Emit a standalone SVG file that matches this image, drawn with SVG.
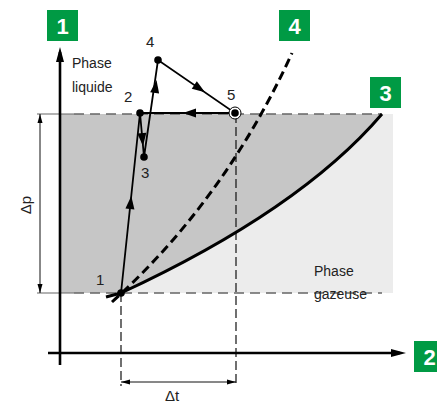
<svg xmlns="http://www.w3.org/2000/svg" width="437" height="406" viewBox="0 0 437 406">
<style>
.lbl{font-family:"Liberation Sans",Arial,sans-serif;font-size:14px;fill:#222}
.num{font-family:"Liberation Sans",Arial,sans-serif;font-size:15px;fill:#222}
.badge rect{fill:#009a44}
.badge text{font-family:"Liberation Sans",Arial,sans-serif;font-size:22px;font-weight:bold;fill:#fff;text-anchor:middle}
.gdash{stroke:#666;stroke-width:1.4;stroke-dasharray:10 6;fill:none}
.ext{stroke:#666;stroke-width:1.2;fill:none}
.vdash{stroke:#111;stroke-width:1.2;stroke-dasharray:9 4;fill:none}
.dim{stroke:#111;stroke-width:1;fill:none}
.path{stroke:#000;stroke-width:1.8;fill:none}
.axis{stroke:#000;stroke-width:2.6;fill:none}
</style>
<defs>
<polygon id="ah" points="0,0 -13,-4.5 -13,4.5" fill="#000"/>
<polygon id="axh" points="0,0 -15,-4 -15,4" fill="#000"/>
<polygon id="dh" points="0,0 -9,-2.5 -9,2.5" fill="#000"/>
</defs>

<g id="regions">
<rect x="60" y="114" width="333" height="179" fill="#ececec"/>
<path d="M60,114 L382,114 Q300,210 121,293 L60,293 Z" fill="#c6c6c6"/>
</g>

<g id="connectors">
<path class="ext" d="M37,114 H74 M37,293 H74"/>
<path class="gdash" d="M74,114 H382 M74,293 H382"/>
<path class="vdash" d="M121,293 V386 M236,114 V386"/>
<path class="dim" d="M40,114 V293 M121,382 H236"/>
<use href="#dh" transform="translate(40,114) rotate(-90)"/>
<use href="#dh" transform="translate(40,293) rotate(90)"/>
<use href="#dh" transform="translate(121,382) rotate(180)"/>
<use href="#dh" transform="translate(236,382)"/>
<path d="M106,297 L121,293 Q300,210 382,114" stroke="#000" stroke-width="3" fill="none"/>
<path d="M112,302 Q225,200 292,53" stroke="#000" stroke-width="3" stroke-dasharray="9 5" fill="none"/>
<path class="path" d="M121,293 L140,113 L144,157 L158,60 L235,113 L140,113"/>
<use href="#ah" transform="translate(131.3,196) rotate(-84)"/>
<use href="#ah" transform="translate(143,146) rotate(84.8)"/>
<use href="#ah" transform="translate(156.5,80) rotate(-81.8)"/>
<use href="#ah" transform="translate(205,92.3) rotate(34.5)"/>
<use href="#ah" transform="translate(183,113) rotate(180)"/>
<path class="axis" d="M60,365 V52 M48,353 H400"/>
<use href="#axh" transform="translate(60,47) rotate(-90)"/>
<use href="#axh" transform="translate(406,353)"/>
</g>

<g id="p1"><circle cx="121" cy="293" r="3.8"/><text class="num" x="96" y="285">1</text></g>
<g id="p2"><circle cx="140" cy="113" r="3.8"/><text class="num" x="124" y="102">2</text></g>
<g id="p3"><circle cx="144" cy="157" r="3.8"/><text class="num" x="141" y="178">3</text></g>
<g id="p4"><circle cx="158" cy="60" r="3.8"/><text class="num" x="146" y="47">4</text></g>
<g id="p5"><circle cx="235" cy="113" r="6" fill="#fff" stroke="#000" stroke-width="1"/><circle cx="235" cy="113" r="3.8"/><text class="num" x="227" y="100">5</text></g>

<g id="label-liquide"><text class="lbl" x="72" y="68">Phase</text><text class="lbl" x="72" y="92">liquide</text></g>
<g id="label-gazeuse"><text class="lbl" x="314" y="276">Phase</text><text class="lbl" x="314" y="299">gazeuse</text></g>
<g id="label-dp"><text class="lbl" transform="translate(31,205) rotate(-90)" style="font-size:15px" text-anchor="middle">Δp</text></g>
<g id="label-dt"><text class="lbl" style="font-size:15px" x="172" y="401" text-anchor="middle">Δt</text></g>

<g id="badge1" class="badge"><rect x="47" y="10" width="31" height="31"/><text x="62.5" y="33.5">1</text></g>
<g id="badge2" class="badge"><rect x="414" y="341" width="31" height="31"/><text x="429.5" y="364.5">2</text></g>
<g id="badge3" class="badge"><rect x="370" y="77" width="31" height="31"/><text x="385.5" y="100.5">3</text></g>
<g id="badge4" class="badge"><rect x="279" y="10" width="31" height="31"/><text x="294.5" y="33.5">4</text></g>
</svg>
